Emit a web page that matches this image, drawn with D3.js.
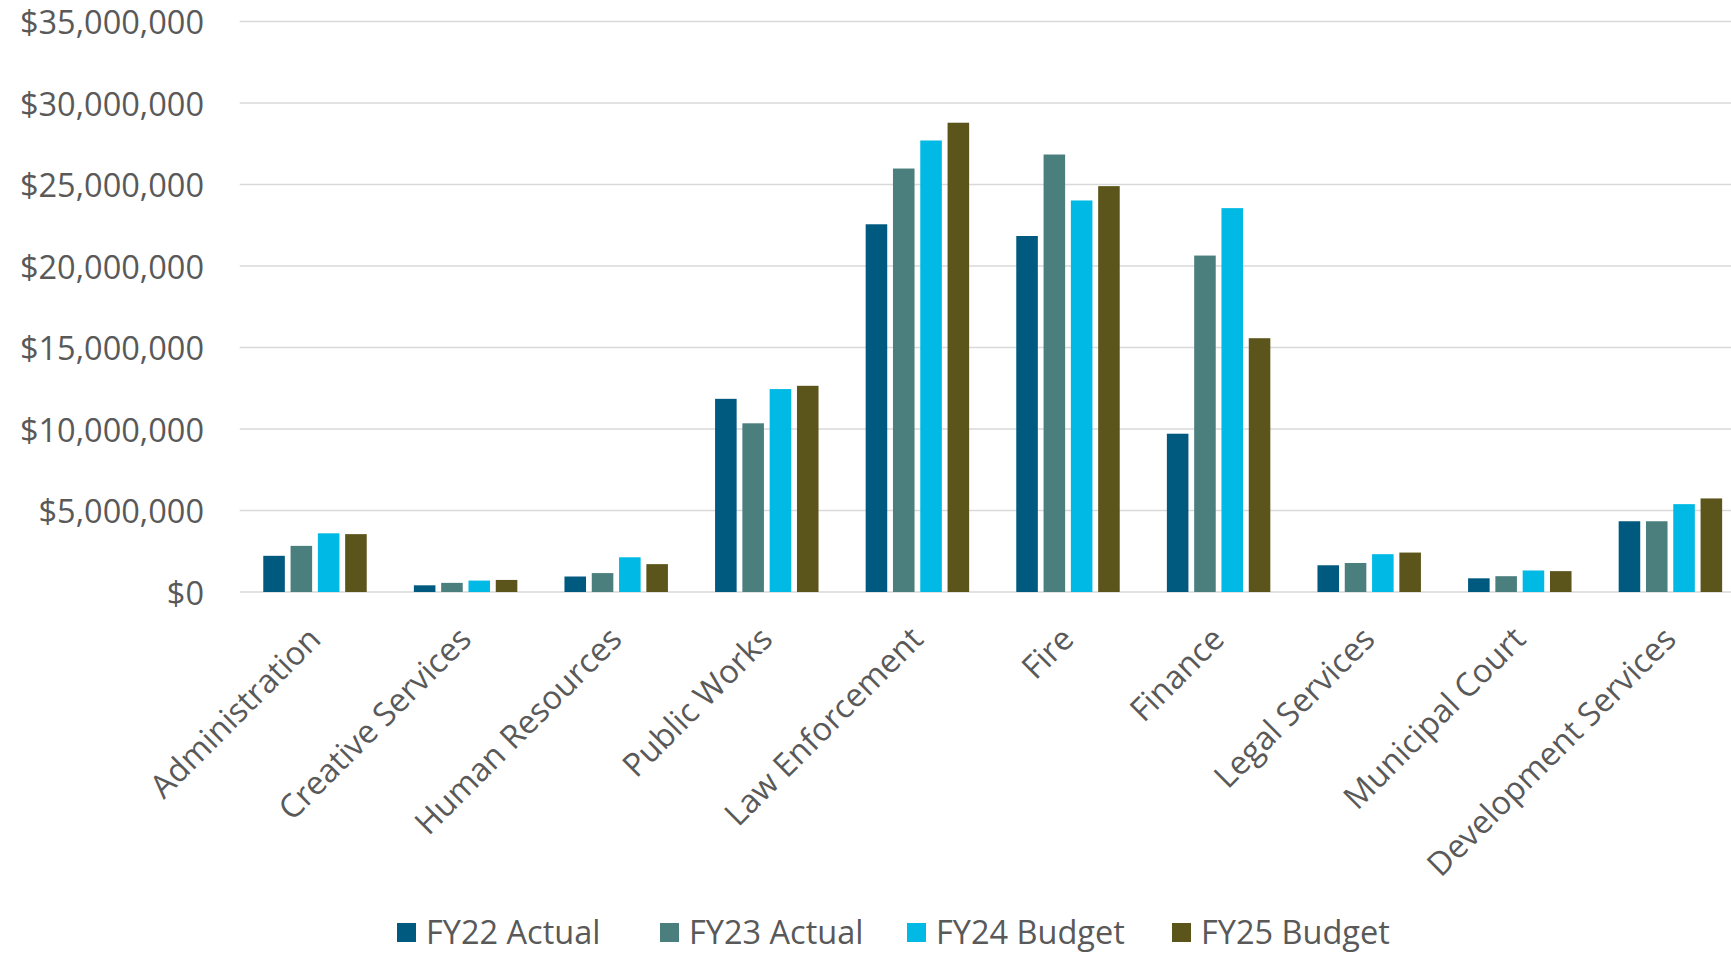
<!DOCTYPE html>
<html><head><meta charset="utf-8">
<script src="https://cdn.jsdelivr.net/npm/d3@7"></script>
<style>html,body{margin:0;padding:0;background:#fff;}svg{display:block;}</style>
</head><body>
<svg id="chart" width="1731" height="954"></svg>
<script>
const categories = ["Administration","Creative Services","Human Resources","Public Works","Law Enforcement","Fire","Finance","Legal Services","Municipal Court","Development Services"];
const seriesNames = ["FY22 Actual","FY23 Actual","FY24 Budget","FY25 Budget"];
const fy22 = [2220000, 410000, 950000, 11850000, 22560000, 21840000, 9710000, 1640000, 840000, 4340000];
const fy23 = [2830000, 560000, 1160000, 10350000, 25980000, 26840000, 20640000, 1780000, 970000, 4340000];
const fy24 = [3600000, 700000, 2130000, 12450000, 27700000, 24020000, 23550000, 2320000, 1320000, 5390000];
const fy25 = [3550000, 740000, 1710000, 12650000, 28790000, 24900000, 15570000, 2420000, 1280000, 5740000];
const yTicks = [0, 5000000, 10000000, 15000000, 20000000, 25000000, 30000000, 35000000];
const colors = ["#00597f", "#4b7f7e", "#00b9e4", "#5c551b"];

const seriesValues = [fy22, fy23, fy24, fy25];
const W = 1731, H = 954;
const plot = {left: 239.7, right: 1745.7, top: 21.5, bottom: 592};
const font = "'Open Sans', sans-serif";
const textColor = "#595959";
const fs = 32.5;

const svg = d3.select("#chart");

const y = d3.scaleLinear().domain([0, 35000000]).range([plot.bottom, plot.top]);
const x0 = d3.scaleBand().domain(categories).range([plot.left, plot.right]).paddingInner(0.313).paddingOuter(0.1565);
const x1 = d3.scaleBand().domain(seriesNames).range([0, x0.bandwidth()]).paddingInner(0.21).paddingOuter(0);
const color = d3.scaleOrdinal().domain(seriesNames).range(colors);

// gridlines
svg.append("g").selectAll("line").data(yTicks).join("line")
  .attr("x1", plot.left).attr("x2", W)
  .attr("y1", d => y(d)).attr("y2", d => y(d))
  .attr("stroke", "#d9d9d9").attr("stroke-width", 1.5);

// y axis labels
const fmt = d3.format("$,");
svg.append("g").selectAll("text").data(yTicks).join("text")
  .attr("x", 204).attr("y", d => y(d) + 1.5).attr("dy", "0.35em")
  .attr("text-anchor", "end")
  .attr("font-family", font).attr("font-size", fs).attr("fill", textColor)
  .text(d => fmt(d));

// bars
const groups = svg.append("g").selectAll("g").data(categories).join("g")
  .attr("transform", d => `translate(${x0(d)},0)`);
groups.selectAll("rect").data((d, i) => seriesNames.map((s, j) => ({s, v: seriesValues[j][i]}))).join("rect")
  .attr("x", d => x1(d.s)).attr("width", x1.bandwidth())
  .attr("y", d => y(d.v)).attr("height", d => y(0) - y(d.v))
  .attr("fill", d => color(d.s));

// x labels
svg.append("g").selectAll("text").data(categories).join("text")
  .attr("transform", d => `translate(${x0(d) + x0.bandwidth()/2 - 8.5},${plot.bottom + 33}) rotate(-45)`)
  .attr("text-anchor", "end").attr("dy", "0.7em")
  .attr("font-family", font).attr("font-size", fs).attr("fill", textColor)
  .text(d => d);

// legend
const legendX = [397, 660, 907, 1172];
const leg = svg.append("g");
const ly = 933;
seriesNames.forEach((s, i) => {
  leg.append("rect").attr("x", legendX[i]).attr("y", ly - 10).attr("width", 19).attr("height", 19).attr("fill", colors[i]);
  leg.append("text").attr("x", legendX[i] + 29).attr("y", ly).attr("dy", "0.35em")
    .attr("font-family", font).attr("font-size", fs).attr("fill", textColor).text(s);
});
</script>
</body></html>
